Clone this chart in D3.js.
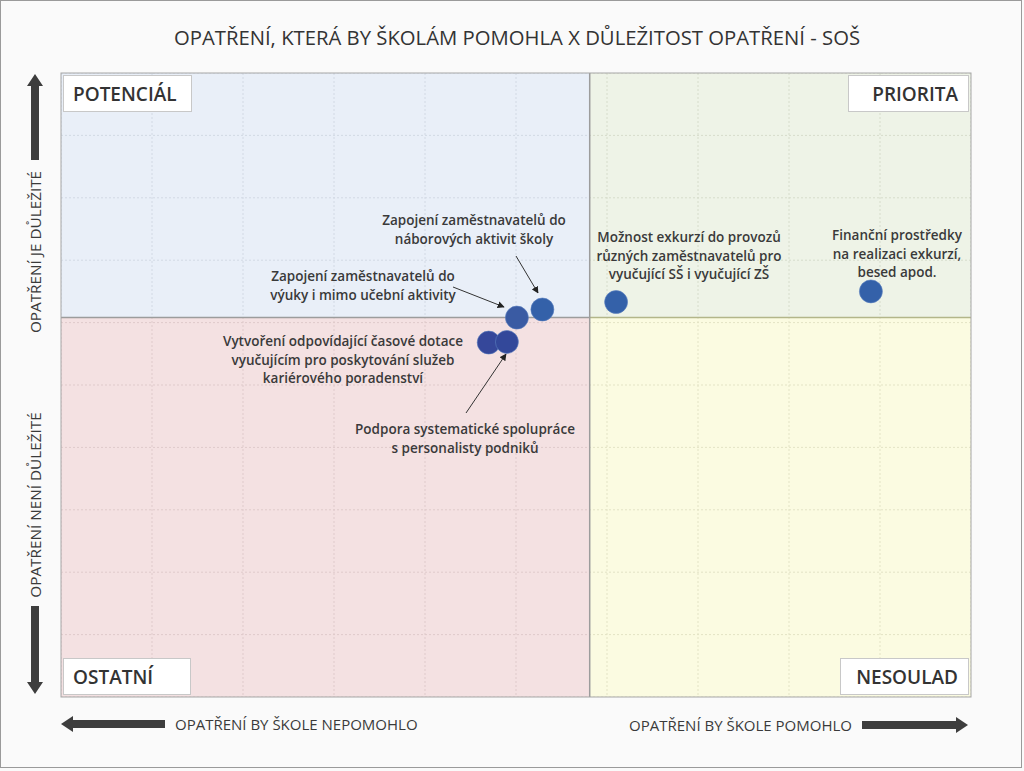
<!DOCTYPE html>
<html><head><meta charset="utf-8">
<script src="https://cdn.jsdelivr.net/npm/d3@7"></script>
<style>
body{margin:0;background:#fafafa;}
svg{display:block;}
text{font-family:"Open Sans",sans-serif;}
</style></head>
<body>
<svg id="c" width="1024" height="771"></svg>
<script>
// ---- data ----
const categories = [
  "Zapojení zaměstnavatelů do náborových aktivit školy",
  "Zapojení zaměstnavatelů do výuky i mimo učební aktivity",
  "Vytvoření odpovídající časové dotace vyučujícím pro poskytování služeb kariérového poradenství",
  "Podpora systematické spolupráce s personalisty podniků",
  "Možnost exkurzí do provozů různých zaměstnavatelů pro vyučující SŠ i vyučující ZŠ",
  "Finanční prostředky na realizaci exkurzí, besed apod."
];
const helpValues = [5.29, 5.01, 4.70, 4.90, 6.10, 8.90];   // x: opatření by škole pomohlo
const importanceValues = [6.21, 6.08, 5.68, 5.69, 6.33, 6.50]; // y: důležitost
const xMid = 5.81, yMid = 6.08;
const gridTicks = [0,1,2,3,4,5,6,7,8,9,10];
const quadrantLabels = ["POTENCIÁL","PRIORITA","OSTATNÍ","NESOULAD"];
const title = "OPATŘENÍ, KTERÁ BY ŠKOLÁM POMOHLA X DŮLEŽITOST OPATŘENÍ - SOŠ";
const axisLabels = ["OPATŘENÍ JE DŮLEŽITÉ","OPATŘENÍ NENÍ DŮLEŽITÉ","OPATŘENÍ BY ŠKOLE NEPOMOHLO","OPATŘENÍ BY ŠKOLE POMOHLO"];
const annotationLines = [
  ["Zapojení zaměstnavatelů do","náborových aktivit školy"],
  ["Zapojení zaměstnavatelů do","výuky i mimo učební aktivity"],
  ["Vytvoření odpovídající časové dotace","vyučujícím pro poskytování služeb","kariérového poradenství"],
  ["Podpora systematické spolupráce","s personalisty podniků"],
  ["Možnost exkurzí do provozů","různých zaměstnavatelů pro","vyučující SŠ i vyučující ZŠ"],
  ["Finanční prostředky","na realizaci exkurzí,","besed apod."]
];

// ---- layout ----
const L = 61, R = 971, T = 73, B = 697;
const svg = d3.select("#c");
const x = d3.scaleLinear().domain([0,10]).range([L,R]);
const y = d3.scaleLinear().domain([0,10]).range([B,T]);
const mx = x(xMid), my = y(yMid);

// outer frame
svg.append("rect").attr("x",0.5).attr("y",0.5).attr("width",1021).attr("height",767)
  .attr("fill","#fafafa").attr("stroke","#9a9a9a");

svg.append("text").attr("x",517).attr("y",45).attr("text-anchor","middle")
  .attr("font-size",20.3).attr("font-weight",500).attr("fill","#333").text(title);

// quadrants
const quads = [
  {x0:L,x1:mx,y0:T,y1:my,fill:"#e9eff8",grid:"#d2d9e4"},
  {x0:mx,x1:R,y0:T,y1:my,fill:"#eef3e7",grid:"#d6dccb"},
  {x0:L,x1:mx,y0:my,y1:B,fill:"#f4e1e2",grid:"#dfcacb"},
  {x0:mx,x1:R,y0:my,y1:B,fill:"#fbfbe1",grid:"#e3e3c5"}
];
quads.forEach((q,i)=>{
  const g = svg.append("g");
  g.append("rect").attr("x",q.x0).attr("y",q.y0).attr("width",q.x1-q.x0).attr("height",q.y1-q.y0).attr("fill",q.fill);
  const cp = "cp"+i;
  svg.append("clipPath").attr("id",cp).append("rect").attr("x",q.x0).attr("y",q.y0).attr("width",q.x1-q.x0).attr("height",q.y1-q.y0);
  const gg = g.append("g").attr("clip-path",`url(#${cp})`);
  gg.selectAll(".v").data(gridTicks).join("line")
    .attr("x1",d=>x(d)).attr("x2",d=>x(d)).attr("y1",T).attr("y2",B)
    .attr("stroke",q.grid).attr("stroke-dasharray","2,2");
  gg.selectAll(".h").data(gridTicks).join("line")
    .attr("x1",L).attr("x2",R).attr("y1",d=>y(d)).attr("y2",d=>y(d))
    .attr("stroke",q.grid).attr("stroke-dasharray","2,2");
});
// midlines
svg.append("line").attr("x1",L).attr("x2",mx).attr("y1",my).attr("y2",my).attr("stroke","#9c9c9c").attr("stroke-width",1.5);
svg.append("line").attr("x1",mx).attr("x2",R).attr("y1",my).attr("y2",my).attr("stroke","#b3b68a").attr("stroke-width",1.5);
svg.append("line").attr("x1",mx).attr("x2",mx).attr("y1",T).attr("y2",B).attr("stroke","#9c9c9c").attr("stroke-width",1.5);
// plot border
svg.append("rect").attr("x",L).attr("y",T).attr("width",R-L).attr("height",B-T)
  .attr("fill","none").attr("stroke","#a6a6a6");

// quadrant label boxes
const boxes = [
  {x:63,y:75,w:128,h:36,anchor:"start",tx:10},
  {x:848,y:75,w:120,h:36,anchor:"end",tx:110},
  {x:63,y:658,w:127,h:36,anchor:"start",tx:10},
  {x:840,y:658,w:128,h:36,anchor:"end",tx:118}
];
boxes.forEach((b,i)=>{
  svg.append("rect").attr("x",b.x+0.5).attr("y",b.y+0.5).attr("width",b.w).attr("height",b.h)
    .attr("fill","#ffffff").attr("stroke","#c8c8c8");
  svg.append("text").attr("x",b.x+b.tx).attr("y",b.y+26).attr("text-anchor",b.anchor)
    .attr("font-size",19).attr("font-weight",600).attr("fill","#333").text(quadrantLabels[i]);
});

// axis arrows
function arrow(x0,y0,x1,y1){
  const len = Math.hypot(x1-x0,y1-y0), ang = Math.atan2(y1-y0,x1-x0)*180/Math.PI;
  const sw = 4, hl = 12, hw = 8;
  svg.append("path")
    .attr("d",`M0,${-sw} L${len-hl},${-sw} L${len-hl},${-hw} L${len},0 L${len-hl},${hw} L${len-hl},${sw} L0,${sw} Z`)
    .attr("transform",`translate(${x0},${y0}) rotate(${ang})`).attr("fill","#3d3d3d");
}
arrow(35,160,35,74);
arrow(35,606,35,694);
arrow(165,724,61,724);
arrow(862,725,968,725);

svg.append("text").attr("transform","translate(41,252) rotate(-90)").attr("text-anchor","middle")
  .attr("font-size",15.3).attr("fill","#3a3a3a").text(axisLabels[0]);
svg.append("text").attr("transform","translate(41,505) rotate(-90)").attr("text-anchor","middle")
  .attr("font-size",15.3).attr("fill","#3a3a3a").text(axisLabels[1]);
svg.append("text").attr("x",175).attr("y",730).attr("font-size",15).attr("fill","#3a3a3a").text(axisLabels[2]);
svg.append("text").attr("x",852).attr("y",731).attr("text-anchor","end").attr("font-size",15).attr("fill","#3a3a3a").text(axisLabels[3]);

// annotations
svg.append("defs").append("marker").attr("id","ah").attr("viewBox","0 0 10 10").attr("refX",9).attr("refY",5)
  .attr("markerWidth",7).attr("markerHeight",7).attr("orient","auto")
  .append("path").attr("d","M0,0 L10,5 L0,10 Z").attr("fill","#222");

const annLayout = [
  {cx:474,y0:225,arrow:[516,256,538,293]},
  {cx:363,y0:281,arrow:[453,287,504,307]},
  {cx:343,y0:346},
  {cx:465,y0:434,arrow:[466,413,506,354]},
  {cx:689,y0:242},
  {cx:897,y0:240}
];
annLayout.forEach((a,i)=>{
  const t = svg.append("text").attr("text-anchor","middle").attr("font-size",13.5).attr("font-weight",600).attr("fill","#3a3a3a");
  annotationLines[i].forEach((ln,j)=>{
    t.append("tspan").attr("x",a.cx).attr("y",a.y0+j*18.7).text(ln);
  });
  if(a.arrow){
    svg.append("line").attr("x1",a.arrow[0]).attr("y1",a.arrow[1]).attr("x2",a.arrow[2]).attr("y2",a.arrow[3])
      .attr("stroke","#333").attr("stroke-width",1).attr("marker-end","url(#ah)");
  }
});

// points
const pointColors = ["#3461a9","#3a5ba3","#35479a","#33489a","#3461a9","#3461a9"];
svg.append("g").selectAll("circle").data(categories).join("circle")
  .attr("cx",(d,i)=>x(helpValues[i])).attr("cy",(d,i)=>y(importanceValues[i])).attr("r",11.5)
  .attr("fill",(d,i)=>pointColors[i]).attr("stroke","#5a7fc0").attr("stroke-width",0.6);
</script>
</body></html>
